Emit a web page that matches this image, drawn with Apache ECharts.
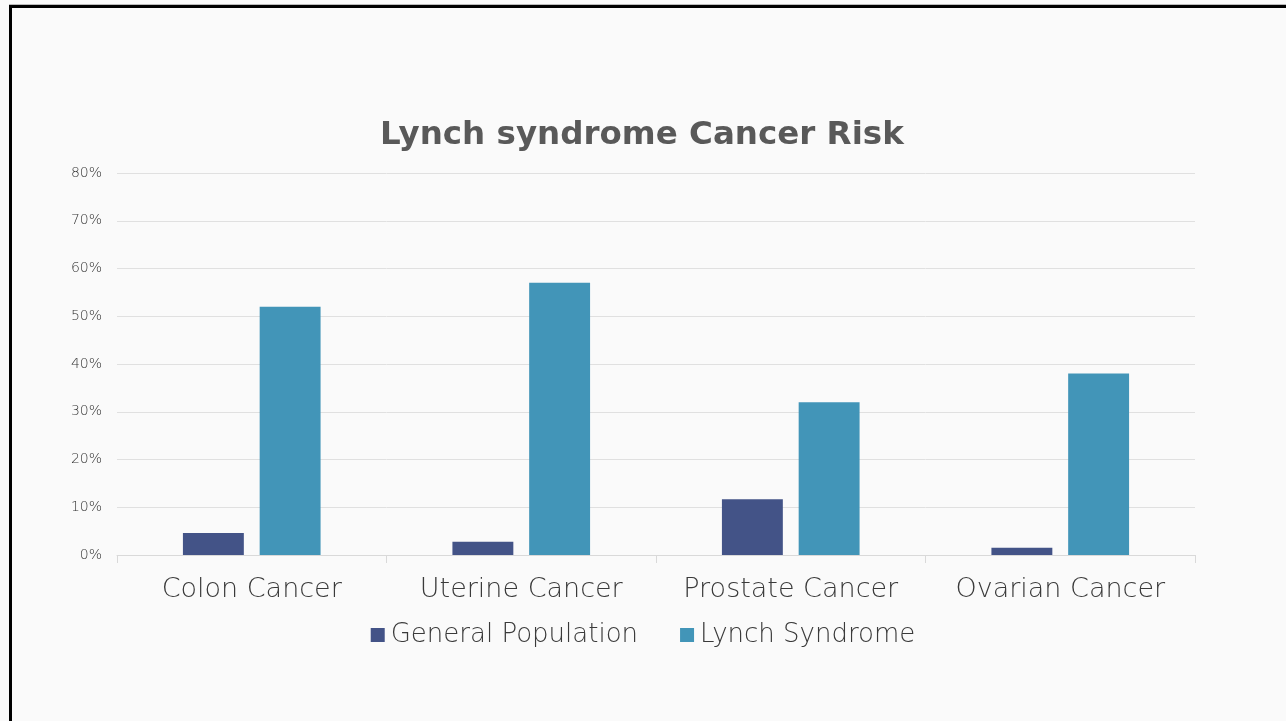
<!DOCTYPE html>
<html><head><meta charset="utf-8">
<script src="https://cdn.jsdelivr.net/npm/echarts@6/dist/echarts.min.js"></script>
<style>
html,body{margin:0;padding:0;width:1286px;height:721px;overflow:hidden;background:#fafafa;}
#frame{position:absolute;left:9px;top:5px;width:1290px;height:730px;border-top:3px solid #000;border-left:3px solid #000;box-shadow:0 -1px 0 #bbb;}
#chart{position:absolute;left:0;top:0;width:1286px;height:721px;}
</style></head>
<body>
<div id="frame"></div>
<div id="chart"></div>
<script>
const categories = ["Colon Cancer", "Uterine Cancer", "Prostate Cancer", "Ovarian Cancer"];
const generalPopulation = [4.6, 2.8, 11.7, 1.5];
const lynchSyndrome = [52, 57, 32, 38];
const seriesNames = ["General Population", "Lynch Syndrome"];
const titleText = "Lynch syndrome Cancer Risk";

const chart = echarts.init(document.getElementById('chart'), null, {renderer: 'canvas'});
const font = "'DejaVu Sans', sans-serif";
chart.setOption({
  backgroundColor: 'transparent',
  animation: false,
  title: {
    text: titleText, left: 375, top: 114,
    textStyle: {fontFamily: font, fontSize: 32.5, fontWeight: 'bold', color: '#595959'}
  },
  legend: {
    data: seriesNames, left: 'center', top: 617, itemWidth: 14, itemHeight: 14, itemGap: 42,
    icon: 'rect',
    textStyle: {fontFamily: font, fontSize: 26, fontWeight: 200, color: '#3a3a3a', padding: [0,0,0,1]}
  },
  grid: {left: 117, right: 91, top: 173, bottom: 166, containLabel: false},
  xAxis: {
    type: 'category', data: categories,
    axisLine: {lineStyle: {color: '#d9d9d9', width: 1}},
    axisTick: {show: true, length: 8, lineStyle: {color: '#d9d9d9'}},
    axisLabel: {interval: 0, hideOverlap: false, fontFamily: font, fontSize: 27, fontWeight: 200, color: '#3a3a3a', margin: 21}
  },
  yAxis: {
    type: 'value', min: 0, max: 80, interval: 10,
    axisLine: {show: false}, axisTick: {show: false},
    splitLine: {lineStyle: {color: '#e0e0e0', width: 1}},
    axisLabel: {fontFamily: font, fontSize: 14, fontWeight: 200, color: '#333333', margin: 15, formatter: v => v + '%'}
  },
  series: [
    {name: seriesNames[0], type: 'bar', data: generalPopulation, barWidth: '22.6%', barGap: '26%',
     itemStyle: {color: '#435387'}},
    {name: seriesNames[1], type: 'bar', data: lynchSyndrome, barWidth: '22.6%',
     itemStyle: {color: '#4295b8'}}
  ]
});
</script>
</body></html>
